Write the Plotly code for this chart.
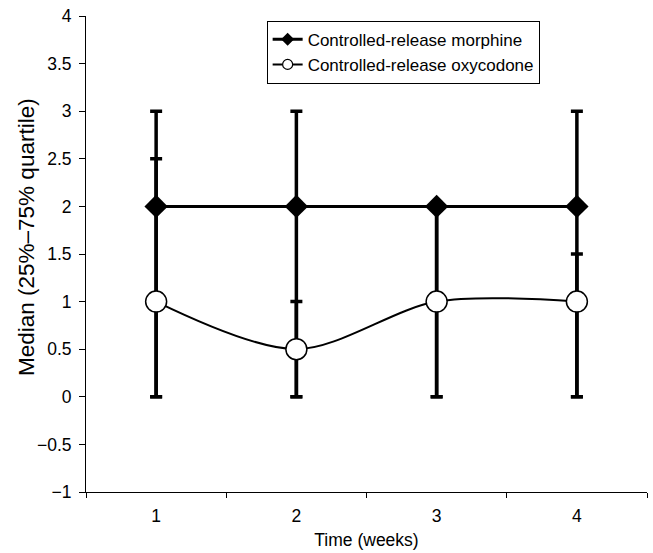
import plotly.graph_objects as go

weeks = ["1", "2", "3", "4"]
morphine_median = [2, 2, 2, 2]
morphine_q1 = [0, 0, 0, 0]
morphine_q3 = [3, 3, 2, 3]
oxy_median = [1, 0.5, 1, 1]
oxy_q1 = [0, 0, 0, 0]
oxy_q3 = [2.5, 1, 2, 1.5]
y_ticks = [-1, -0.5, 0, 0.5, 1, 1.5, 2, 2.5, 3, 3.5, 4]
y_ticktext = ["\u22121", "\u22120.5", "0", "0.5", "1", "1.5", "2", "2.5", "3", "3.5", "4"]

font = "Liberation Sans, Arial, sans-serif"
names = ["Controlled-release morphine", "Controlled-release oxycodone"]

def plus(m, q3):
    return [b - a for a, b in zip(m, q3)]

def minus(m, q1):
    return [a - b for a, b in zip(m, q1)]

fig = go.Figure()

# error bars (drawn underneath all markers)
for med, q1, q3 in [(morphine_median, morphine_q1, morphine_q3), (oxy_median, oxy_q1, oxy_q3)]:
    fig.add_trace(go.Scatter(
        x=weeks, y=med, mode="markers",
        marker=dict(size=2, color="rgba(0,0,0,0)"),
        error_y=dict(type="data", symmetric=False, array=plus(med, q3),
                     arrayminus=minus(med, q1), color="black", thickness=3.5, width=6),
        showlegend=False, hoverinfo="skip"))

fig.add_trace(go.Scatter(
    x=weeks, y=morphine_median, mode="lines+markers",
    name=names[0], showlegend=False,
    line=dict(color="black", width=3),
    marker=dict(symbol="diamond", size=18, color="black"),
))
fig.add_trace(go.Scatter(
    x=weeks, y=oxy_median, mode="lines+markers",
    name=names[1], showlegend=False,
    line=dict(color="black", width=2, shape="spline", smoothing=0.9),
    marker=dict(symbol="circle", size=21, color="white", line=dict(color="black", width=1.5)),
))

# legend entries with small symbols
fig.add_trace(go.Scatter(
    x=[None], y=[None], mode="lines+markers", name=names[0],
    line=dict(color="black", width=3),
    marker=dict(symbol="diamond", size=10, color="black")))
fig.add_trace(go.Scatter(
    x=[None], y=[None], mode="lines+markers", name=names[1],
    line=dict(color="black", width=2),
    marker=dict(symbol="circle", size=10, color="white", line=dict(color="black", width=1.2))))

fig.update_layout(
    width=653, height=553,
    margin=dict(l=86, r=6, t=16, b=61),
    paper_bgcolor="white", plot_bgcolor="white",
    font=dict(family=font, size=17, color="black"),
    legend=dict(x=0.322, y=0.99, xanchor="left", yanchor="top",
                bordercolor="black", borderwidth=1, bgcolor="white",
                font=dict(size=17), tracegroupgap=0),
    annotations=[dict(
        text="Median (25%\u201375% quartile)", textangle=-90,
        xref="paper", yref="paper", x=(26 - 86) / 561, y=(492 - 237) / 476,
        xanchor="center", yanchor="middle", showarrow=False,
        font=dict(size=22.5))],
)
fig.update_xaxes(
    type="category", range=[-0.5, 3.5], automargin=False,
    showline=True, linecolor="black", linewidth=1,
    ticks="outside", tickson="boundaries", ticklen=5, tickcolor="black",
    tickfont=dict(size=17.5), ticklabelstandoff=8,
    showgrid=False, zeroline=False,
    title=dict(text="Time (weeks)", standoff=8, font=dict(size=17.5)),
)
fig.update_yaxes(
    range=[-1, 4], tickvals=y_ticks, ticktext=y_ticktext, automargin=False,
    showline=True, linecolor="black", linewidth=1,
    ticks="outside", ticklen=6, tickcolor="black",
    tickfont=dict(size=17.5), ticklabelstandoff=4,
    showgrid=False, zeroline=False,
)

fig.write_html("out.html", config={"displayModeBar": False},
               post_script="document.body.style.margin='0';")
